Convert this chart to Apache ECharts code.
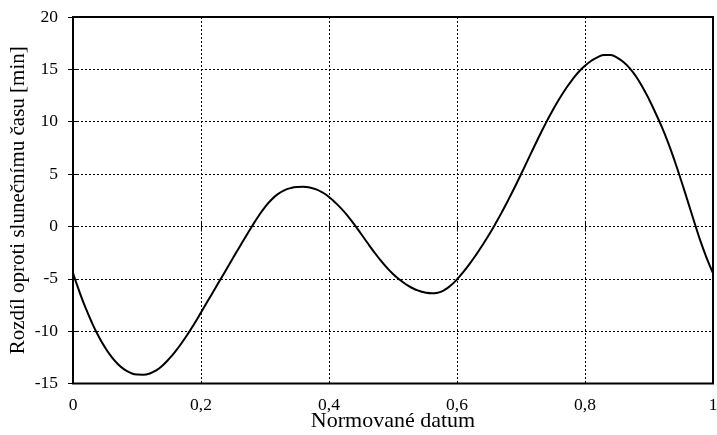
<!DOCTYPE html>
<html>
<head>
<meta charset="utf-8">
<script src="https://cdn.jsdelivr.net/npm/echarts@6/dist/echarts.min.js"></script>
<style>html,body{margin:0;padding:0;background:#fff}#c{width:717px;height:435px}</style>
</head>
<body>
<div id="c"></div>
<script>
const xValues = [0.00,0.01,0.02,0.03,0.04,0.05,0.06,0.07,0.08,0.09,0.10,0.11,0.12,0.13,0.14,0.15,0.16,0.17,0.18,0.19,0.20,0.21,0.22,0.23,0.24,0.25,0.26,0.27,0.28,0.29,0.30,0.31,0.32,0.33,0.34,0.35,0.36,0.37,0.38,0.39,0.40,0.41,0.42,0.43,0.44,0.45,0.46,0.47,0.48,0.49,0.50,0.51,0.52,0.53,0.54,0.55,0.56,0.57,0.58,0.59,0.60,0.61,0.62,0.63,0.64,0.65,0.66,0.67,0.68,0.69,0.70,0.71,0.72,0.73,0.74,0.75,0.76,0.77,0.78,0.79,0.80,0.81,0.82,0.83,0.84,0.85,0.86,0.87,0.88,0.89,0.90,0.91,0.92,0.93,0.94,0.95,0.96,0.97,0.98,0.99,1.00];
const yValues = [-4.45,-6.23,-7.83,-9.25,-10.49,-11.55,-12.43,-13.13,-13.65,-13.99,-14.15,-14.16,-14.04,-13.74,-13.27,-12.65,-11.93,-11.11,-10.21,-9.24,-8.22,-7.18,-6.14,-5.10,-4.06,-3.02,-1.98,-0.96,0.05,1.00,1.85,2.55,3.08,3.45,3.66,3.76,3.78,3.71,3.54,3.24,2.81,2.27,1.65,0.94,0.15,-0.70,-1.56,-2.40,-3.19,-3.91,-4.54,-5.07,-5.52,-5.88,-6.14,-6.31,-6.39,-6.33,-6.09,-5.65,-5.05,-4.34,-3.55,-2.69,-1.77,-0.79,0.25,1.35,2.51,3.72,4.98,6.26,7.54,8.80,10.01,11.15,12.20,13.15,14.00,14.75,15.35,15.82,16.17,16.38,16.36,16.13,15.70,15.10,14.30,13.30,12.15,10.86,9.50,7.97,6.27,4.43,2.51,0.57,-1.33,-3.00,-4.46];
const xTickLabels = ['0','0,2','0,4','0,6','0,8','1'];
const yTickLabels = ['-15','-10','-5','0','5','10','15','20'];
const xTitle = 'Normované datum';
const yTitle = 'Rozdíl oproti slunečnímu času [min]';

const FONT = 'Liberation Serif';
const data = xValues.map((x, i) => [x, yValues[i]]);
const gridLine = {show: true, lineStyle: {color: '#000', width: 1, type: [2, 2]}};
const tick = {show: true, inside: true, length: 5, lineStyle: {color: '#000', width: 1}};

const chart = echarts.init(document.getElementById('c'), null, {renderer: 'canvas'});
chart.setOption({
  animation: false,
  backgroundColor: '#fff',
  grid: {left: 73, right: 4, top: 17, bottom: 51.5, containLabel: false, outerBoundsMode: 'none',
    show: true, borderColor: '#000', borderWidth: 2, backgroundColor: 'transparent'},
  xAxis: [{
    type: 'value', min: 0, max: 1, interval: 0.2,
    name: xTitle, nameLocation: 'middle', nameGap: 27, nameMoveOverlap: false,
    nameTextStyle: {fontFamily: FONT, fontSize: 22, color: '#000'},
    axisLine: {show: false}, axisTick: tick, splitLine: gridLine,
    axisLabel: {margin: 13, fontFamily: FONT, fontSize: 17.5, color: '#000',
      formatter: v => xTickLabels[Math.round(v / 0.2)]}
  }, {
    type: 'value', min: 0, max: 1, interval: 0.2, position: 'top',
    axisLine: {show: false}, axisTick: tick, splitLine: {show: false}, axisLabel: {show: false}
  }],
  yAxis: [{
    type: 'value', min: -15, max: 20, interval: 5,
    name: yTitle, nameLocation: 'middle', nameGap: 44, nameRotate: 90, nameMoveOverlap: false,
    nameTextStyle: {fontFamily: FONT, fontSize: 21, color: '#000'},
    axisLine: {show: false}, axisTick: tick, splitLine: gridLine,
    axisLabel: {margin: 15, fontFamily: FONT, fontSize: 17.5, color: '#000',
      formatter: v => yTickLabels[Math.round((v + 15) / 5)]}
  }, {
    type: 'value', min: -15, max: 20, interval: 5, position: 'right',
    axisLine: {show: false}, axisTick: tick, splitLine: {show: false}, axisLabel: {show: false}
  }],
  series: [{
    type: 'line', data: data, smooth: true, showSymbol: false, symbol: 'none',
    lineStyle: {color: '#000', width: 2}, z: 5
  }]
});
</script>
</body>
</html>
